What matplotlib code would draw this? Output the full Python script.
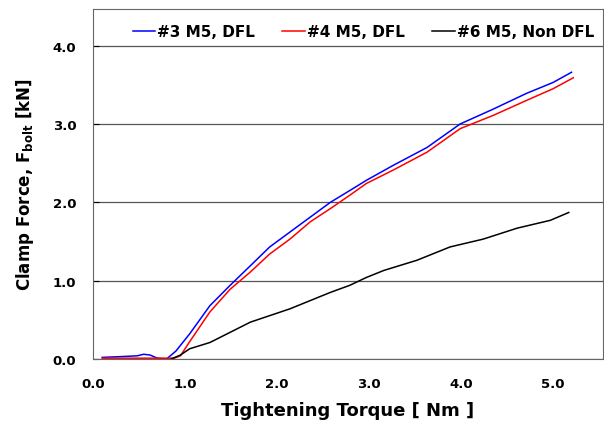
import matplotlib
matplotlib.use("Agg")
import matplotlib.pyplot as plt

plt.rcParams['mathtext.fontset'] = 'dejavusans'

# values
torque_3 = [0.10, 0.30, 0.48, 0.55, 0.62, 0.70, 0.80, 0.84, 0.90, 1.05, 1.27, 1.49, 1.71, 1.92,
            2.14, 2.36, 2.58, 2.79, 2.97, 3.26, 3.63, 3.99, 4.35, 4.71, 5.00, 5.20]
force_3 = [0.02, 0.03, 0.04, 0.06, 0.05, 0.01, 0.00, 0.04, 0.10, 0.32, 0.68, 0.94, 1.19, 1.43,
           1.62, 1.81, 2.00, 2.15, 2.28, 2.47, 2.70, 3.00, 3.19, 3.39, 3.53, 3.66]

torque_4 = [0.10, 0.40, 0.70, 0.88, 0.95, 1.05, 1.27, 1.49, 1.71, 1.92, 2.14, 2.36, 2.58,
            2.79, 2.97, 3.26, 3.63, 3.99, 4.35, 4.71, 5.00, 5.22]
force_4 = [0.01, 0.01, 0.01, 0.01, 0.04, 0.22, 0.60, 0.89, 1.11, 1.34, 1.53, 1.75, 1.92,
           2.09, 2.24, 2.41, 2.64, 2.94, 3.11, 3.30, 3.45, 3.59]

torque_6 = [0.85, 0.95, 1.05, 1.27, 1.71, 2.14, 2.58, 2.79, 2.97, 3.16, 3.52, 3.88, 4.24,
            4.61, 4.97, 5.17]
force_6 = [0.00, 0.05, 0.13, 0.21, 0.47, 0.64, 0.85, 0.94, 1.04, 1.13, 1.26, 1.43, 1.53,
           1.67, 1.77, 1.87]

labels = ['#3 M5, DFL', '#4 M5, DFL', '#6 M5, Non DFL']
colors = ['#0000ff', '#ff0000', '#000000']

fig = plt.figure(figsize=(6.04, 4.27), dpi=100)
ax = fig.add_axes([0.154, 0.157, 0.844, 0.820])

ax.plot(torque_3, force_3, color=colors[0], lw=1.1, label=labels[0])
ax.plot(torque_4, force_4, color=colors[1], lw=1.1, label=labels[1])
ax.plot(torque_6, force_6, color=colors[2], lw=1.1, label=labels[2])

ax.set_xlim(0, 5.54)
ax.set_ylim(0, 4.47)
ax.set_xticks([0, 1, 2, 3, 4, 5])
ax.set_yticks([0, 1, 2, 3, 4])
ax.set_xticklabels(['0.0', '1.0', '2.0', '3.0', '4.0', '5.0'], fontweight='bold', fontsize=9.5)
ax.set_yticklabels(['0.0', '1.0', '2.0', '3.0', '4.0'], fontweight='bold', fontsize=9.5)
ax.tick_params(axis='y', direction='in', length=4, pad=12)
ax.tick_params(axis='x', length=0, pad=13)
ax.grid(axis='y', color='#555555', lw=0.9)
ax.set_axisbelow(True)
for s in ax.spines.values():
    s.set_color('#666666')

ax.set_xlabel('Tightening Torque [ Nm ]', fontsize=13, fontweight='bold', labelpad=8)
ax.set_ylabel(r'Clamp Force, F$_{\mathbf{bolt}}$ [kN]', fontsize=12, fontweight='bold', labelpad=12)

ax.legend(loc='upper center', bbox_to_anchor=(0.53, 0.995), ncol=3, frameon=False,
          handlelength=1.5, handletextpad=0.1, columnspacing=1.8,
          prop={'weight': 'bold', 'size': 11})

fig.savefig('out.png', dpi=100)
